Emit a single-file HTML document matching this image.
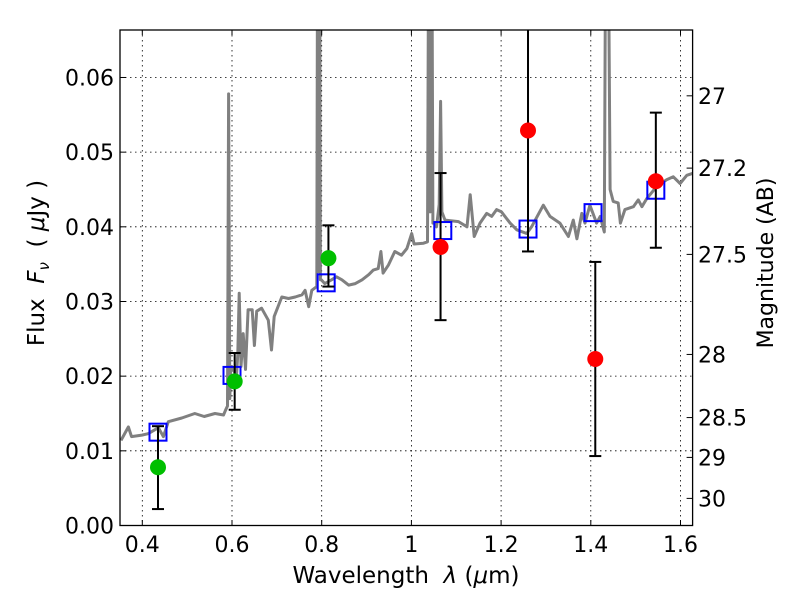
<!DOCTYPE html>
<html><head><meta charset="utf-8"><style>
body{margin:0;background:#fff;}
svg{display:block;font-family:"DejaVu Sans","Liberation Sans",sans-serif;}
</style></head><body>
<svg id="chart" width="800" height="600">
<defs><clipPath id="clip"><rect x="120" y="30" width="572.6" height="495.5"/></clipPath></defs>
<rect x="0" y="0" width="800" height="600" fill="#fff"/>
<g id="grid"></g>
<g id="spec" clip-path="url(#clip)"></g>
<g id="marks" clip-path="url(#clip)"></g>
<rect x="120" y="30" width="572.6" height="495.5" fill="none" stroke="#000" stroke-width="1.3"/>
<g id="axes"></g>
<text x="406" y="583" font-size="23" text-anchor="middle" xml:space="preserve">Wavelength  <tspan font-style="italic">λ</tspan> (<tspan font-style="italic">μ</tspan>m)</text>
<text transform="translate(44,263) rotate(-90)" font-size="23" text-anchor="middle" xml:space="preserve">Flux  <tspan font-style="italic">F</tspan><tspan font-style="italic" font-size="15" dy="5">ν</tspan><tspan dy="-5">  ( </tspan><tspan font-style="italic">μ</tspan>Jy )</text>
<text transform="translate(773,263) rotate(-90)" font-size="22" text-anchor="middle">Magnitude (AB)</text>
</svg>
<script>
const specWave=[0.3525,0.369,0.376,0.399,0.413,0.436,0.447,0.458,0.488,0.517,0.538,0.562,0.581,0.586,0.590,0.5925,0.595,0.597,0.599,0.61,0.613,0.616,0.62,0.625,0.63,0.636,0.645,0.65,0.655,0.666,0.681,0.688,0.694,0.711,0.726,0.741,0.756,0.763,0.771,0.778,0.789,0.791,0.793,0.795,0.797,0.799,0.807,0.822,0.833,0.845,0.860,0.875,0.890,0.905,0.915,0.926,0.932,0.937,0.949,0.963,0.978,0.990,1.0007,1.006,1.027,1.036,1.039,1.042,1.045,1.048,1.051,1.056,1.062,1.065,1.068,1.075,1.105,1.124,1.131,1.140,1.153,1.168,1.179,1.190,1.201,1.220,1.235,1.257,1.268,1.294,1.309,1.331,1.350,1.361,1.369,1.380,1.387,1.398,1.413,1.421,1.430,1.434,1.438,1.443,1.450,1.461,1.466,1.476,1.495,1.506,1.514,1.525,1.547,1.569,1.584,1.599,1.614,1.629];
const specFlux=[0.0114,0.0132,0.0119,0.0121,0.0123,0.0131,0.0119,0.0139,0.0144,0.0150,0.0146,0.0150,0.0148,0.0155,0.0160,0.0578,0.0170,0.0213,0.0213,0.0200,0.0230,0.0311,0.0213,0.0257,0.0209,0.0289,0.0289,0.0241,0.0287,0.0291,0.0275,0.0235,0.0280,0.0306,0.0304,0.0306,0.0309,0.0315,0.0293,0.0315,0.0320,0.0900,0.0340,0.0900,0.0329,0.0329,0.0324,0.0329,0.0333,0.0329,0.0322,0.0324,0.0329,0.0336,0.0342,0.0344,0.0367,0.0338,0.0349,0.0367,0.0362,0.0371,0.0391,0.0377,0.0378,0.0380,0.0900,0.0420,0.0900,0.0405,0.0405,0.0400,0.0430,0.0568,0.0420,0.0409,0.0407,0.0400,0.0443,0.0387,0.0405,0.0418,0.0414,0.0423,0.0420,0.0405,0.0396,0.0391,0.0400,0.0429,0.0414,0.0405,0.0387,0.0409,0.0384,0.0418,0.0405,0.0429,0.0405,0.0414,0.0393,0.0900,0.0900,0.0450,0.0434,0.0432,0.0405,0.0423,0.0427,0.0436,0.0427,0.0438,0.0454,0.0463,0.0467,0.0458,0.0469,0.0472];
const greenWave=[0.435,0.606,0.815];
const greenFlux=[0.0078,0.0193,0.0358];
const greenLo=[0.0022,0.0155,0.0320];
const greenHi=[0.0133,0.0231,0.0402];
const redWave=[1.065,1.26,1.41,1.545];
const redFlux=[0.0373,0.0529,0.0223,0.0461];
const redLo=[0.0275,0.0367,0.0093,0.0372];
const redHi=[0.0472,0.0800,0.0353,0.0553];
const modelWave=[0.435,0.600,0.810,1.070,1.260,1.405,1.545];
const modelFlux=[0.0125,0.0201,0.0325,0.0395,0.0397,0.0419,0.0449];
const xTicks=[0.4,0.6,0.8,1.0,1.2,1.4,1.6];
const xTickLabels=["0.4","0.6","0.8","1","1.2","1.4","1.6"];
const yTicks=[0,0.01,0.02,0.03,0.04,0.05,0.06];
const yTickLabels=["0.00","0.01","0.02","0.03","0.04","0.05","0.06"];
const magTicks=[27,27.2,27.5,28,28.5,29,30];
const magTickLabels=["27","27.2","27.5","28","28.5","29","30"];

const NS="http://www.w3.org/2000/svg";
const X=v=>142.3+(v-0.4)*448.5;
const Y=f=>525.5-f*7467;
const magToFlux=m=>Math.pow(10,(23.9-m)/2.5);
function mk(tag,attrs,parent){const e=document.createElementNS(NS,tag);for(const k in attrs)e.setAttribute(k,attrs[k]);parent.appendChild(e);return e;}
const grid=document.getElementById('grid'),axes=document.getElementById('axes'),spec=document.getElementById('spec'),marks=document.getElementById('marks');
xTicks.forEach((t,i)=>{
  const gl=mk('line',{x1:X(t),x2:X(t),y1:30,y2:525.5,stroke:'#000','stroke-width':0.8,'stroke-dasharray':'1.5,3.5'},grid);
  
  
  const tk=mk('line',{x1:X(t),x2:X(t),y1:525.5,y2:520,stroke:'#000','stroke-width':1},axes);
  
  
  const tk2=mk('line',{x1:X(t),x2:X(t),y1:30,y2:35,stroke:'#000','stroke-width':1},axes);
  
  
  const lb=mk('text',{x:X(t),y:552,'font-size':22,'text-anchor':'middle'},axes);
  lb.textContent=xTickLabels[i];
  
  
});
yTicks.forEach((t,i)=>{
  if(t>0){const gl=mk('line',{x1:120,x2:692.6,y1:Y(t),y2:Y(t),stroke:'#000','stroke-width':0.8,'stroke-dasharray':'1.5,3.5'},grid);
  
  }
  const tk=mk('line',{x1:120,x2:126,y1:Y(t),y2:Y(t),stroke:'#000','stroke-width':1},axes);
  
  
  const lb=mk('text',{x:114,y:Y(t)+8,'font-size':22,'text-anchor':'end'},axes);
  lb.textContent=yTickLabels[i];
  
  
});
magTicks.forEach((m,i)=>{
  const y=Y(magToFlux(m));
  const tk=mk('line',{x1:692.6,x2:686.6,y1:y,y2:y,stroke:'#000','stroke-width':1},axes);
  
  
  const lb=mk('text',{x:698,y:y+8,'font-size':22},axes);
  lb.textContent=magTickLabels[i];
  
  
});
const pts=specWave.map((w,i)=>X(w).toFixed(1)+','+Y(specFlux[i]).toFixed(1)).join(' ');
const pl=mk('polyline',{points:pts,fill:'none',stroke:'#808080','stroke-width':3,'stroke-linejoin':'round'},spec);


function errbar(w,lo,hi){
  const g=mk('g',{stroke:'#000','stroke-width':2},marks);
  
  
  mk('line',{x1:X(w),x2:X(w),y1:Y(lo),y2:Y(hi)},g);
  mk('line',{x1:X(w)-6,x2:X(w)+6,y1:Y(lo),y2:Y(lo)},g);
  mk('line',{x1:X(w)-6,x2:X(w)+6,y1:Y(hi),y2:Y(hi)},g);
}
modelWave.forEach((w,i)=>{
  const r=mk('rect',{x:X(w)-8.5,y:Y(modelFlux[i])-8.5,width:17,height:17,fill:'none',stroke:'#0000ff','stroke-width':2},marks);
  
  
});
greenWave.forEach((w,i)=>{
  errbar(w,greenLo[i],greenHi[i]);
  const c=mk('circle',{cx:X(w),cy:Y(greenFlux[i]),r:8,fill:'#00bf00'},marks);
  
  
});
redWave.forEach((w,i)=>{
  errbar(w,redLo[i],redHi[i]);
  const c=mk('circle',{cx:X(w),cy:Y(redFlux[i]),r:8,fill:'#ff0000'},marks);
  
  
});
</script>
</body></html>
